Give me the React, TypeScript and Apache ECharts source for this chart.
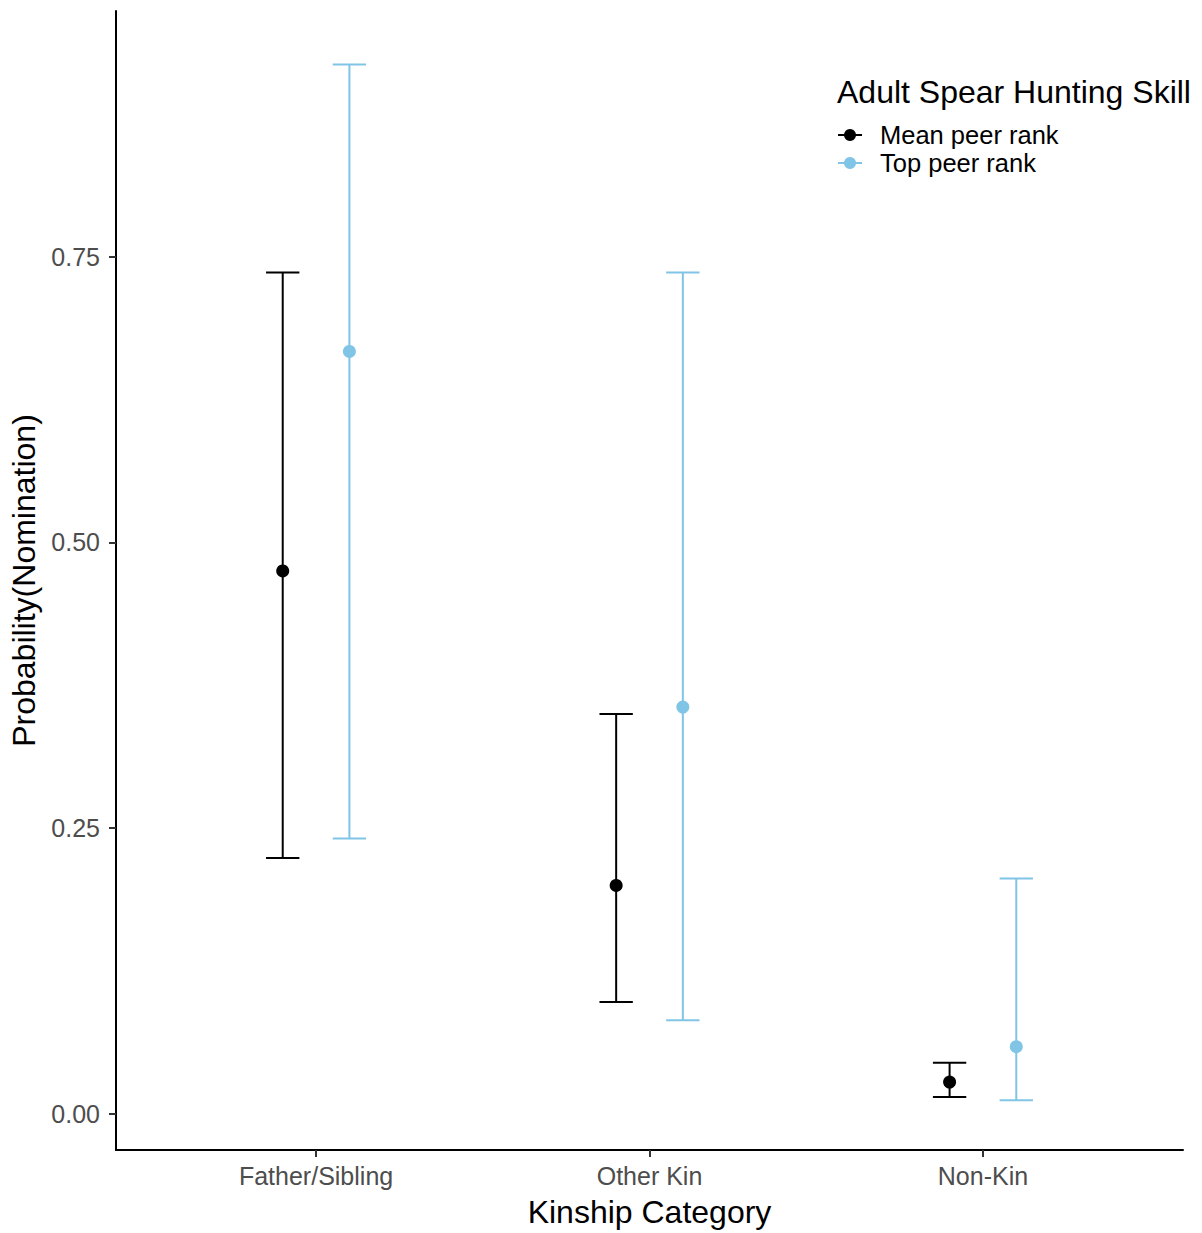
import React, { useEffect, useRef } from "react";
import * as echarts from "echarts";

const categories = ["Father/Sibling", "Other Kin", "Non-Kin"];
const meanEst = [0.475, 0.2, 0.028];
const meanLow = [0.224, 0.098, 0.015];
const meanHigh = [0.736, 0.35, 0.045];
const topEst = [0.667, 0.356, 0.059];
const topLow = [0.241, 0.082, 0.012];
const topHigh = [0.918, 0.736, 0.206];
const yTicks = [0, 0.25, 0.5, 0.75];
const seriesNames = ["Mean peer rank", "Top peer rank"];
const legendTitle = "Adult Spear Hunting Skill";

const BLACK = "#000000";
const BLUE = "#80c4e6";
const FONT = "Liberation Sans, Arial, Helvetica, sans-serif";

function errRender(color: string) {
  return (params: any, api: any) => {
    const x = api.value(0);
    const lo = api.value(1);
    const hi = api.value(2);
    const pLo = api.coord([x, lo]);
    const pHi = api.coord([x, hi]);
    const half = api.size([0.05, 0])[0];
    const style = { stroke: color, lineWidth: 2 };
    return {
      type: "group",
      children: [
        { type: "line", shape: { x1: pLo[0], y1: pLo[1], x2: pHi[0], y2: pHi[1] }, style },
        { type: "line", shape: { x1: pHi[0] - half, y1: pHi[1], x2: pHi[0] + half, y2: pHi[1] }, style },
        { type: "line", shape: { x1: pLo[0] - half, y1: pLo[1], x2: pLo[0] + half, y2: pLo[1] }, style },
      ],
    };
  };
}

export default function App() {
  const ref = useRef<HTMLDivElement>(null);
  useEffect(() => {
    if (!ref.current) return;
    const chart = echarts.init(ref.current, undefined, { renderer: "svg" });
    const meanErr = categories.map((_, i) => [i + 1 - 0.1, meanLow[i], meanHigh[i]]);
    const topErr = categories.map((_, i) => [i + 1 + 0.1, topLow[i], topHigh[i]]);
    const meanPts = categories.map((_, i) => [i + 1 - 0.1, meanEst[i]]);
    const topPts = categories.map((_, i) => [i + 1 + 0.1, topEst[i]]);

    const option: any = {
      animation: false,
      backgroundColor: "#ffffff",
      grid: { left: 116, right: 19, top: 11, bottom: 78, containLabel: false },
      xAxis: {
        type: "value",
        min: 0.4,
        max: 3.6,
        name: "Kinship Category",
        nameLocation: "middle",
        nameGap: 46,
        nameTextStyle: { fontSize: 32, color: "#000", fontFamily: FONT },
        axisLine: { onZero: false, lineStyle: { color: "#000", width: 2 } },
        axisTick: { customValues: [1, 2, 3], length: 7, lineStyle: { color: "#333", width: 2 } },
        axisLabel: {
          customValues: [1, 2, 3],
          formatter: (v: number) => categories[Math.round(v) - 1] ?? "",
          fontSize: 25,
          color: "#4d4d4d",
          fontFamily: FONT,
          margin: 13,
        },
        splitLine: { show: false },
      },
      yAxis: {
        type: "value",
        min: -0.0314,
        max: 0.9647,
        name: "Probability(Nomination)",
        nameLocation: "middle",
        nameGap: 75,
        nameTextStyle: { fontSize: 32, color: "#000", fontFamily: FONT },
        axisLine: { show: true, onZero: false, lineStyle: { color: "#000", width: 2 } },
        axisTick: { show: true, customValues: yTicks, length: 7, lineStyle: { color: "#333", width: 2 } },
        axisLabel: {
          customValues: yTicks,
          formatter: (v: number) => v.toFixed(2),
          fontSize: 25,
          color: "#4d4d4d",
          fontFamily: FONT,
          margin: 16,
        },
        splitLine: { show: false },
      },
      series: [
        {
          type: "custom",
          name: seriesNames[0],
          renderItem: errRender(BLACK),
          encode: { x: 0, y: [1, 2] },
          data: meanErr,
          z: 2,
        },
        {
          type: "custom",
          name: seriesNames[1],
          renderItem: errRender(BLUE),
          encode: { x: 0, y: [1, 2] },
          data: topErr,
          z: 2,
        },
        {
          type: "scatter",
          name: seriesNames[0],
          data: meanPts,
          symbolSize: 13,
          itemStyle: { color: BLACK, opacity: 1 },
          z: 3,
        },
        {
          type: "scatter",
          name: seriesNames[1],
          data: topPts,
          symbolSize: 13,
          itemStyle: { color: BLUE, opacity: 1 },
          z: 3,
        },
      ],
      graphic: [
        {
          type: "text",
          left: 837,
          top: 76,
          style: { text: legendTitle, fontSize: 32, fill: "#000", fontFamily: FONT },
        },
        { type: "line", shape: { x1: 838, y1: 135, x2: 862, y2: 135 }, style: { stroke: BLACK, lineWidth: 2 } },
        { type: "circle", shape: { cx: 850, cy: 135, r: 6 }, style: { fill: BLACK } },
        { type: "line", shape: { x1: 838, y1: 163, x2: 862, y2: 163 }, style: { stroke: BLUE, lineWidth: 2 } },
        { type: "circle", shape: { cx: 850, cy: 163, r: 6 }, style: { fill: BLUE } },
        {
          type: "text",
          left: 880,
          top: 122,
          style: { text: seriesNames[0], fontSize: 25.5, fill: "#000", fontFamily: FONT },
        },
        {
          type: "text",
          left: 880,
          top: 150,
          style: { text: seriesNames[1], fontSize: 25.5, fill: "#000", fontFamily: FONT },
        },
      ],
    };
    chart.setOption(option);
    return () => chart.dispose();
  }, []);
  return (
    <div
      ref={ref}
      style={{ position: "fixed", left: 0, top: 0, width: 1202, height: 1233, background: "#fff" }}
    />
  );
}
